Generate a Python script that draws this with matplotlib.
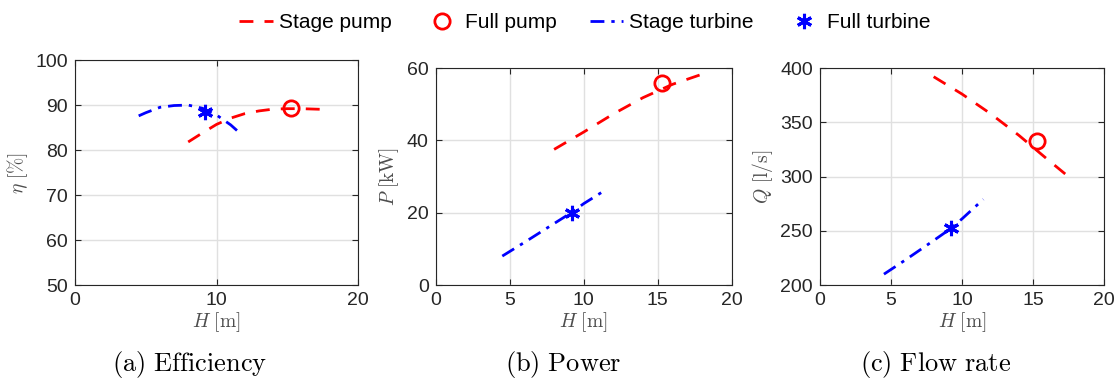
import numpy as np
import matplotlib
matplotlib.use('Agg')
import matplotlib.pyplot as plt

plt.rcParams['font.family'] = ['Liberation Sans', 'DejaVu Sans']
plt.rcParams['mathtext.fontset'] = 'cm'

# --- data ---
# efficiency
eta_pump_H = [8, 9, 10, 11, 12, 13, 14, 15, 16, 17, 18]
eta_pump = [81.8, 83.8, 85.7, 87.1, 88.1, 88.7, 89.1, 89.2, 89.2, 89.1, 89.0]
eta_turb_H = [4.5, 5, 6, 7, 8, 9, 10, 11, 11.5]
eta_turb = [87.6, 88.3, 89.5, 89.9, 90.0, 89.3, 87.8, 85.6, 84.2]
eta_full_pump = (15.3, 89.4)
eta_full_turb = (9.2, 88.5)

# power
P_pump_H = [8, 10, 12, 14, 16, 18]
P_pump = [37.5, 42.3, 47.3, 51.8, 55.5, 58.3]
P_turb_H = [4.5, 6, 8, 9.2, 10, 11.4]
P_turb = [8.0, 11.8, 17.0, 20.1, 22.5, 26.1]
P_full_pump = (15.3, 56.0)
P_full_turb = (9.2, 20.0)

# flow rate
Q_pump_H = [8, 10, 12, 14, 16, 17.3]
Q_pump = [392, 376, 358, 338, 316, 302]
Q_turb_H = [4.5, 6, 8, 9.2, 10, 11.5]
Q_turb = [210, 223, 241, 252, 261, 279]
Q_full_pump = (15.3, 333)
Q_full_turb = (9.2, 253)

panels = [
    dict(rect=[0.0671, 0.246, 0.2531, 0.595], pump=(eta_pump_H, eta_pump), turb=(eta_turb_H, eta_turb),
         fp=eta_full_pump, ft=eta_full_turb, xt=[0, 10, 20], yt=[50, 60, 70, 80, 90, 100],
         ylim=(50, 100), ylabel=r'$\eta\ \mathrm{[\%]}$', cap=r'$\mathrm{(a)\ Efficiency}$', capx=0.170),
    dict(rect=[0.3897, 0.246, 0.2648, 0.574], pump=(P_pump_H, P_pump), turb=(P_turb_H, P_turb),
         fp=P_full_pump, ft=P_full_turb, xt=[0, 5, 10, 15, 20], yt=[0, 20, 40, 60],
         ylim=(0, 60), ylabel=r'$P\ \mathrm{[kW]}$', cap=r'$\mathrm{(b)\ Power}$', capx=0.504),
    dict(rect=[0.7335, 0.246, 0.2540, 0.574], pump=(Q_pump_H, Q_pump), turb=(Q_turb_H, Q_turb),
         fp=Q_full_pump, ft=Q_full_turb, xt=[0, 5, 10, 15, 20], yt=[200, 250, 300, 350, 400],
         ylim=(200, 400), ylabel=r'$Q\ \mathrm{[l/s]}$', cap=r'$\mathrm{(c)\ Flow\ rate}$', capx=0.837),
]

fig = plt.figure(figsize=(11.18, 3.78), dpi=100)
dk = '0.15'
for p in panels:
    ax = fig.add_axes(p['rect'])
    l1, = ax.plot(*p['pump'], color='red', lw=2, dashes=(5, 4), label='Stage pump')
    l2, = ax.plot(*p['fp'], 'o', ms=11, mfc='none', mec='red', mew=2, label='Full pump')
    l3, = ax.plot(*p['turb'], color='blue', lw=2, dashes=(5, 2.5, 1.2, 2.5), label='Stage turbine')
    l4, = ax.plot(*p['ft'], marker=(6, 2, 0), ms=11, mec='blue', mew=2.2, ls='none', label='Full turbine')
    ax.set_xlim(0, 20)
    ax.set_ylim(*p['ylim'])
    ax.set_xticks(p['xt'])
    ax.set_yticks(p['yt'])
    ax.grid(True, color='0.88', lw=1)
    ax.set_axisbelow(True)
    ax.tick_params(direction='in', top=True, right=True, labelsize=14, colors=dk, length=4, pad=5)
    for s in ax.spines.values():
        s.set_color(dk)
    ax.set_xlabel(r'$H\ \mathrm{[m]}$', fontsize=14, color='0.3', labelpad=1)
    ax.set_ylabel(p['ylabel'], fontsize=14, color='0.3', labelpad=4)
    fig.text(p['capx'], 0.036, p['cap'], fontsize=19, ha='center', va='center')

fig.legend(handles=[l1, l2, l3, l4], loc='center', bbox_to_anchor=(0.523, 0.94), ncol=4,
           frameon=False, fontsize=15, handlelength=1.6, handletextpad=0.3, columnspacing=1.6)

fig.savefig('out.png', dpi=100)
